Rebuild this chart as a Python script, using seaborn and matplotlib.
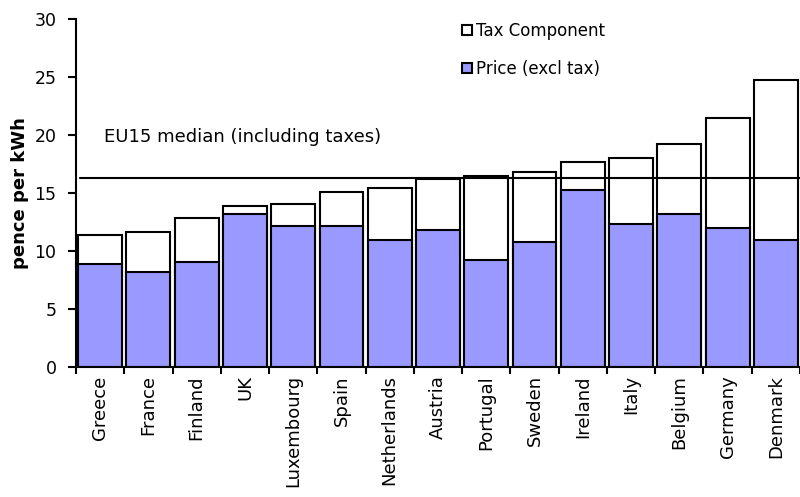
import matplotlib
matplotlib.use("Agg")
import matplotlib.pyplot as plt
import seaborn as sns
import pandas as pd
from matplotlib.patches import Patch
from matplotlib.ticker import FixedLocator

countries = ["Greece", "France", "Finland", "UK", "Luxembourg", "Spain", "Netherlands",
             "Austria", "Portugal", "Sweden", "Ireland", "Italy", "Belgium", "Germany", "Denmark"]
price_excl_tax = [8.85, 8.2, 9.05, 13.15, 12.15, 12.15, 10.93,
                  11.8, 9.2, 10.8, 15.25, 12.3, 13.15, 11.95, 10.95]
total_incl_tax = [11.42, 11.65, 12.83, 13.87, 14.04, 15.07, 15.39,
                  16.22, 16.48, 16.77, 17.64, 17.98, 19.19, 21.43, 24.71]
eu15_median = 16.25
yticks = [0, 5, 10, 15, 20, 25, 30]

sns.set_theme(style="white")
plt.rcParams['font.family'] = ['DejaVu Sans']
plt.rcParams['text.color'] = 'black'
plt.rcParams['axes.labelcolor'] = 'black'
plt.rcParams['xtick.color'] = 'black'
plt.rcParams['ytick.color'] = 'black'

df = pd.DataFrame({"country": countries, "price": price_excl_tax, "total": total_incl_tax})

fig = plt.figure(figsize=(8.0, 4.97), dpi=100)
ax = fig.add_axes([0.095, 0.2616, 0.905, 0.7002])

sns.barplot(data=df, x="country", y="total", color="white", edgecolor="black",
            linewidth=1.5, width=0.91, saturation=1, ax=ax, order=countries)
sns.barplot(data=df, x="country", y="price", color="#9999FF", edgecolor="black",
            linewidth=1.5, width=0.91, saturation=1, ax=ax, order=countries)

ax.axhline(eu15_median, xmin=0.005, xmax=1.0, color="black", linewidth=1.5, zorder=5)
ax.text(0.08, 19.85, "EU15 median (including taxes)", fontsize=13, va="center", ha="left")

ax.set_xlim(-0.5, len(countries) - 0.5)
ax.set_ylim(0, 30)
ax.set_yticks(yticks)
ax.set_yticklabels([str(v) for v in yticks], fontsize=12.5)
ax.set_ylabel("pence per kWh", fontsize=13, fontweight="bold", labelpad=4)
ax.set_xlabel("")

ax.set_xticks(list(range(len(countries))))
ax.set_xticklabels(countries, rotation=90, fontsize=13)
ax.xaxis.set_minor_locator(FixedLocator([i - 0.5 for i in range(len(countries) + 1)]))
ax.tick_params(axis="x", which="major", length=0, pad=6)
ax.tick_params(axis="x", which="minor", length=5, width=1.5, color="black", direction="out", bottom=True)
ax.tick_params(axis="y", length=6, width=1.5, color="black", direction="out", left=True, pad=8)

for s in ["top", "right"]:
    ax.spines[s].set_visible(False)
for s in ["left", "bottom"]:
    ax.spines[s].set_color("black")
    ax.spines[s].set_linewidth(1.5)
ax.grid(False)

handles = [Patch(facecolor="white", edgecolor="black", linewidth=1.5),
           Patch(facecolor="#9999FF", edgecolor="black", linewidth=1.5)]
fig.legend(handles, ["Tax Component", "Price (excl tax)"], loc="upper left",
           bbox_to_anchor=(462/800, 1 - 22/497), frameon=False, fontsize=12,
           handlelength=0.6, handleheight=0.6, handletextpad=0.25, labelspacing=1.2,
           borderaxespad=0, borderpad=0)

fig.savefig("out.png", dpi=100)
